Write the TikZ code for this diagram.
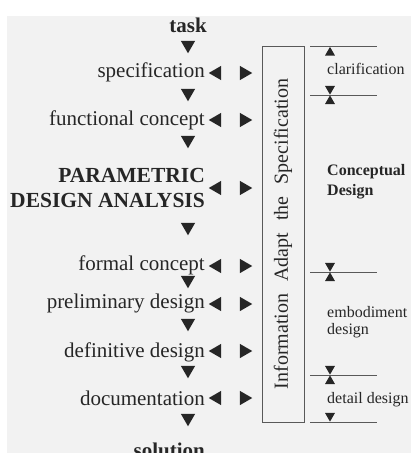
\documentclass[tikz,border=0pt]{standalone}
\usepackage{fontspec}
\setmainfont{Liberation Serif}
\usetikzlibrary{shapes.geometric}

\begin{document}
\begin{tikzpicture}[x=1pt, y=-1pt,
		stage/.style={anchor=base east, inner sep=0pt, text=black!85, font=\fontsize{21}{24}\selectfont},
		phase/.style={anchor=base west, inner sep=0pt, text=black!85, font=\fontsize{16}{18}\selectfont},
		tri/.style={regular polygon, regular polygon sides=3, fill=black!85, draw=none, inner sep=0pt, minimum size=16.5pt},
		tridown/.style={tri, shape border rotate=180},
		trileft/.style={tri, shape border rotate=90},
		triright/.style={tri, shape border rotate=-90},
		tick/.style={tri, minimum size=11.5pt, anchor=corner 1},
		rule/.style={gray!70!black, line width=0.8pt}]
			% Nền
			\useasboundingbox (0, 0) rectangle (411, 453);
			\fill[white] (0, 0) rectangle (411, 453);
			\fill[gray!10] (7, 16) rectangle (411, 453);

			% Các bước thiết kế ở cột trái
			\node[stage, font=\fontsize{21}{24}\selectfont\bfseries] (task) at (207, 32) {task};
			\node[stage] (spec) at (205, 77) {specification};
			\node[stage] (func) at (205, 125) {functional concept};
			\node[stage, font=\fontsize{21.5}{24}\selectfont\bfseries] (para) at (205, 182) {PARAMETRIC};
			\node[stage, font=\fontsize{21.5}{24}\selectfont\bfseries] (anal) at (205, 207) {DESIGN ANALYSIS};
			\node[stage] (form) at (205, 270) {formal concept};
			\node[stage] (prel) at (205, 308) {preliminary design};
			\node[stage] (defi) at (205, 357) {definitive design};
			\node[stage] (docu) at (205, 405) {documentation};
			\node[stage, font=\fontsize{21}{24}\selectfont\bfseries] (solu) at (205, 457) {solution};

			% Mũi tên đi xuống giữa các bước
			\node[tridown] (d1) at (188, 45) {};
			\node[tridown] (d2) at (188, 93) {};
			\node[tridown] (d3) at (188, 140) {};
			\node[tridown] (d4) at (188, 227) {};
			\node[tridown] (d5) at (188, 280) {};
			\node[tridown] (d6) at (188, 323) {};
			\node[tridown] (d7) at (188, 370) {};
			\node[tridown] (d8) at (188, 418) {};

			% Mũi tên trao đổi với khối thông tin
			\node[trileft] (l1) at (217, 73) {};
			\node[triright] (r1) at (244, 73) {};
			\node[trileft] (l2) at (217, 120) {};
			\node[triright] (r2) at (244, 120) {};
			\node[trileft] (l3) at (217, 188) {};
			\node[triright] (r3) at (244, 188) {};
			\node[trileft] (l4) at (217, 266) {};
			\node[triright] (r4) at (244, 266) {};
			\node[trileft] (l5) at (217, 304) {};
			\node[triright] (r5) at (244, 304) {};
			\node[trileft] (l6) at (217, 351) {};
			\node[triright] (r6) at (244, 351) {};
			\node[trileft] (l7) at (217, 398) {};
			\node[triright] (r7) at (244, 398) {};

			% Khối thông tin dựng đứng
			\draw[rule] (262, 46.5) rectangle (304, 422);
			\node[rotate=90, inner sep=0pt, text=black!85, font=\fontsize{20}{22}\selectfont] (info) at (283, 234)
				{Information\hspace{12pt}Adapt\hspace{12pt}the\hspace{12pt}Specification};

			% Các vạch chia giai đoạn bên phải
			\draw[rule] (310, 46.5) -- (377, 46.5);
			\draw[rule] (310, 95) -- (377, 95);
			\draw[rule] (310, 272) -- (377, 272);
			\draw[rule] (310, 375) -- (377, 375);
			\draw[rule] (310, 422) -- (377, 422);

			\node[tick] (t1) at (330, 46.5) {};
			\node[tick, shape border rotate=180] (t2) at (330, 95) {};
			\node[tick] (t3) at (330, 95) {};
			\node[tick, shape border rotate=180] (t4) at (330, 272) {};
			\node[tick] (t5) at (330, 272) {};
			\node[tick, shape border rotate=180] (t6) at (330, 375) {};
			\node[tick] (t7) at (330, 375) {};
			\node[tick, shape border rotate=180] (t8) at (330, 422) {};

			% Tên các giai đoạn
			\node[phase] (clar) at (327, 74) {clarification};
			\node[phase, font=\fontsize{16}{18}\selectfont\bfseries] (conc) at (327, 175) {Conceptual};
			\node[phase, font=\fontsize{16}{18}\selectfont\bfseries] (cdes) at (327, 195) {Design};
			\node[phase] (embo) at (327, 317) {embodiment};
			\node[phase] (edes) at (327, 334) {design};
			\node[phase] (deta) at (327, 403) {detail design};
		\end{tikzpicture}
\end{document}
